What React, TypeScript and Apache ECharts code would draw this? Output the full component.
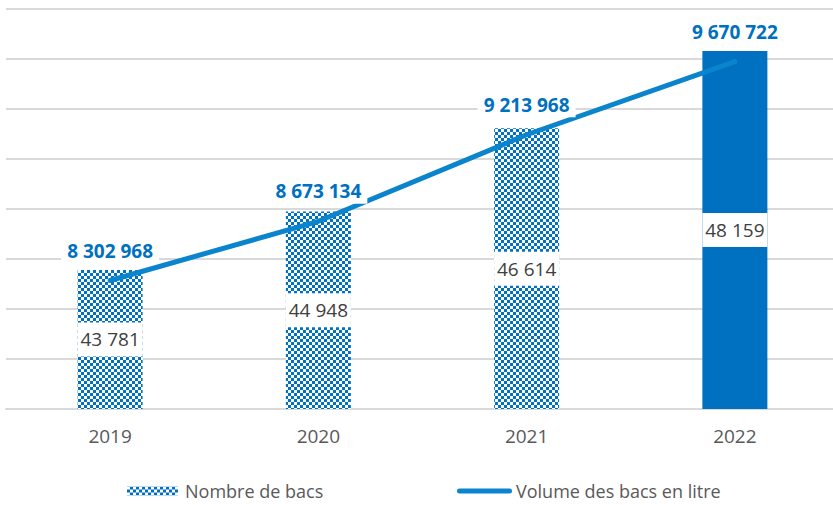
import React, { useEffect, useRef } from "react";
import * as echarts from "echarts";

const years = ["2019", "2020", "2021", "2022"];
const nombreBacs = [43781, 44948, 46614, 48159];
const volumeBacs = [8302968, 8673134, 9213968, 9670722];

const fmt = (v: number) => String(v).replace(/\B(?=(\d{3})+(?!\d))/g, " ");

function makePattern() {
  const c = document.createElement("canvas");
  c.width = 6;
  c.height = 6;
  const ctx = c.getContext("2d")!;
  ctx.fillStyle = "#0070C0";
  ctx.fillRect(0, 0, 6, 6);
  ctx.fillStyle = "#ffffff";
  ctx.fillRect(0, 0, 3, 3);
  ctx.fillRect(3, 3, 3, 3);
  return c;
}

const lineIcon =
  "path://M2.5,0 L52.5,0 A2.5,2.5 0 0 1 52.5,5 L2.5,5 A2.5,2.5 0 0 1 2.5,0 Z";

export default function App() {
  const ref = useRef<HTMLDivElement>(null);
  useEffect(() => {
    document.body.style.margin = "0";
    const chart = echarts.init(ref.current!, null, { renderer: "svg" });
    const pattern = { image: makePattern(), repeat: "repeat" } as any;
    const font = "'Open Sans', 'Noto Sans', sans-serif";
    const legendText = { fontSize: 18, color: "#595959", fontFamily: font };
    chart.setOption({
      animation: false,
      textStyle: { fontFamily: font },
      grid: { left: 6, width: 833, top: 9, height: 400, outerBoundsMode: "none", containLabel: false },
      legend: [
        {
          top: 482,
          left: 127,
          padding: 0,
          itemWidth: 51,
          itemHeight: 9,
          textStyle: { ...legendText, padding: [0, 0, 0, 2] },
          data: [{ name: "Nombre de bacs", icon: "rect" }],
        },
        {
          top: 482,
          left: 457,
          padding: 0,
          itemWidth: 55,
          itemHeight: 9,
          textStyle: { ...legendText, padding: [0, 0, 0, -1] },
          data: [{ name: "Volume des bacs en litre", icon: lineIcon }],
        },
      ],
      xAxis: {
        type: "category",
        data: years,
        axisLine: { lineStyle: { color: "#d9d9d9", width: 2 } },
        axisTick: { show: false },
        axisLabel: { fontSize: 19, color: "#595959", margin: 17, fontFamily: font },
      },
      yAxis: [
        {
          type: "value",
          min: 41000,
          max: 49000,
          interval: 1000,
          axisLabel: { show: false },
          axisLine: { show: false },
          axisTick: { show: false },
          splitLine: { lineStyle: { color: "#d9d9d9", width: 2 } },
        },
        {
          type: "value",
          min: 7500000,
          max: 10000000,
          interval: 312500,
          axisLabel: { show: false },
          axisLine: { show: false },
          axisTick: { show: false },
          splitLine: { show: false },
        },
      ],
      series: [
        {
          name: "Nombre de bacs",
          type: "bar",
          barWidth: 65,
          itemStyle: { color: pattern },
          data: nombreBacs.map((v, i) =>
            i === 3 ? { value: v, itemStyle: { color: "#0070C0" } } : v
          ),
          label: {
            show: true,
            position: "inside",
            formatter: (p: any) => fmt(p.value),
            color: "#404040",
            fontSize: 19,
            fontFamily: font,
            backgroundColor: "#ffffff",
            width: 65,
            height: 34,
            lineHeight: 34,
            align: "center",
            verticalAlign: "middle",
          },
        },
        {
          name: "Volume des bacs en litre",
          type: "line",
          yAxisIndex: 1,
          data: volumeBacs,
          symbol: "circle",
          symbolSize: 1,
          showSymbol: true,
          z: 5,
          lineStyle: { color: "#0A84CC", width: 5, cap: "round" },
          itemStyle: { color: "#0A84CC" },
          label: {
            show: true,
            position: "top",
            distance: 17,
            formatter: (p: any) => fmt(p.value),
            color: "#0070C0",
            fontWeight: "bold",
            fontSize: 19,
            fontFamily: font,
            backgroundColor: "#ffffff",
            padding: [3, 6],
          },
        },
      ],
    });
    return () => chart.dispose();
  }, []);
  return <div ref={ref} style={{ width: 833, height: 505 }} />;
}
